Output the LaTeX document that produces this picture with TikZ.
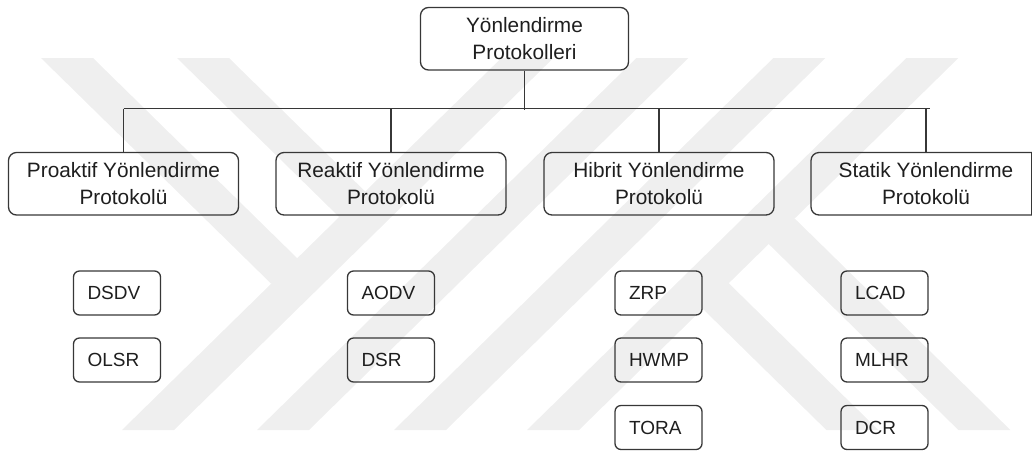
\documentclass[tikz,border=0pt]{standalone}
\usepackage{fontspec}
\setmainfont{Liberation Sans}
\definecolor{wm}{RGB}{239,239,239}
\definecolor{ink}{RGB}{30,30,30}
\definecolor{edge}{RGB}{55,55,55}
\tikzset{
  grp/.style={draw=edge, line width=1.3pt, rounded corners=8pt,
    minimum width=230pt, minimum height=62.5pt, inner sep=0pt,
    align=center, text=ink, font=\fontsize{20.8}{26.5}\selectfont},
  rootbox/.style={grp, minimum width=208pt},
  leaf/.style={draw=edge, line width=1.3pt, rounded corners=6pt,
    text width=59pt, inner xsep=14pt, inner ysep=0pt, minimum height=44pt,
    align=left, text=ink, font=\fontsize{19}{23}\selectfont},
  link/.style={draw=edge, line width=1.3pt},
  band/.style={fill=wm, draw=none}
}
\begin{document}
\begin{tikzpicture}[x=1pt, y=-1pt]
\useasboundingbox (0,0) rectangle (1032,451);

% background emblem made of diagonal bands
\fill[band] (122,430) -- (174,430) -- (553.4,58) -- (501.4,58) -- cycle;
\fill[band] (257,430) -- (309,430) -- (688.4,58) -- (636.4,58) -- cycle;
\fill[band] (394,430) -- (446,430) -- (825.4,58) -- (773.4,58) -- cycle;
\fill[band] (527,430) -- (579,430) -- (958.4,58) -- (906.4,58) -- cycle;
\fill[band] (41,58) -- (93,58) -- (323.2,283.7) -- (271.2,283.7) -- cycle;
\fill[band] (177,58) -- (229,58) -- (391.2,217) -- (339.2,217) -- cycle;
\fill[band] (676.7,283.2) -- (728.7,283.2) -- (878.4,430) -- (826.4,430) -- cycle;
\fill[band] (742.7,218.5) -- (794.7,218.5) -- (1010.4,430) -- (958.4,430) -- cycle;

% root
\node[rootbox] (root) at (524.5,38.75) {Yönlendirme\\Protokolleri};

% protocol families
\node[grp] (pro) at (123.5,183.75) {Proaktif Yönlendirme\\Protokolü};
\node[grp] (rea) at (391,183.75) {Reaktif Yönlendirme\\Protokolü};
\node[grp] (hib) at (659,183.75) {Hibrit Yönlendirme\\Protokolü};
\node[grp] (sta) at (926,183.75) {Statik Yönlendirme\\Protokolü};
\draw[link] (1031.3,152.5) -- (1031.3,215);

% protocols
\node[leaf] (dsdv) at (117,293) {DSDV};
\node[leaf] (olsr) at (117,360) {OLSR};
\node[leaf] (aodv) at (391,293) {AODV};
\node[leaf] (dsr)  at (391,360) {DSR};
\node[leaf] (zrp)  at (658.5,293) {ZRP};
\node[leaf] (hwmp) at (658.5,360) {HWMP};
\node[leaf] (tora) at (658.5,427.5) {TORA};
\node[leaf] (lcad) at (884.5,293) {LCAD};
\node[leaf] (mlhr) at (884.5,360) {MLHR};
\node[leaf] (dcr)  at (884.5,427.5) {DCR};

% tree connectors
\coordinate (busL) at (123.5,108.5);
\coordinate (busR) at (930,108.5);
\coordinate (hub) at (524.5,110);
\draw[link] (root.south) -- (hub);
\draw[link] (busL) -- (busR);
\foreach \c in {pro,rea,hib,sta}
  \draw[link] (busL -| \c.north) -- (\c.north);
\end{tikzpicture}
\end{document}
